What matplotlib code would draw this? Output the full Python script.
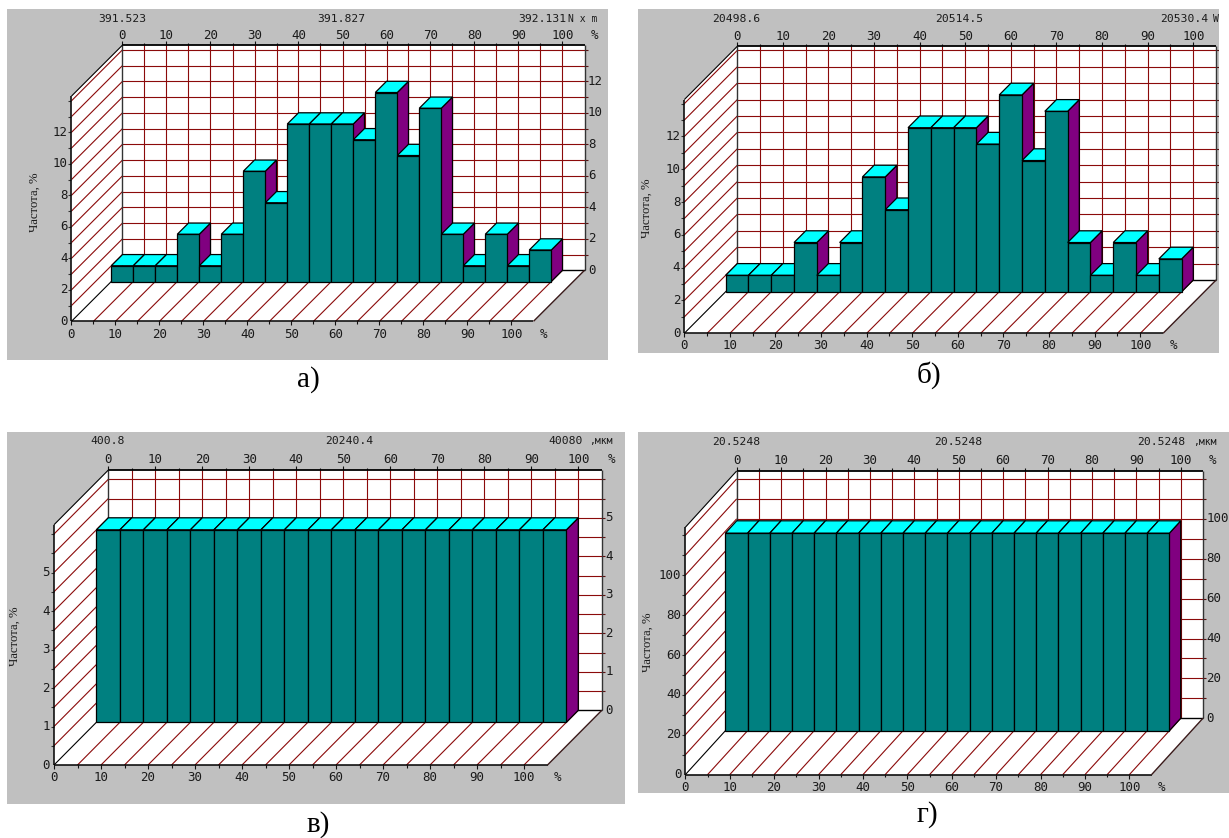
import numpy as np
import matplotlib
matplotlib.use('Agg')
import matplotlib.pyplot as plt
from matplotlib.patches import Polygon

W, H = 1229, 838

# heights of the bars, %
freq_a = [1, 1, 1, 3, 1, 3, 7, 5, 10, 10, 10, 9, 12, 8, 11, 3, 1, 3, 1, 2]
freq_b = [1, 1, 1, 3, 1, 3, 7, 5, 10, 10, 10, 9, 12, 8, 11, 3, 1, 3, 1, 2]
freq_c = [5, 5, 5, 5, 5, 5, 5, 5, 5, 5, 5, 5, 5, 5, 5, 5, 5, 5, 5, 5]
freq_d = [99, 99, 99, 99, 99, 99, 99, 99, 99, 99, 99, 99, 99, 99, 99, 99, 99, 99, 99, 99]

bin_left = [0, 5, 10, 15, 20, 25, 30, 35, 40, 45, 50, 55, 60, 65, 70, 75, 80, 85, 90, 95]
x_ticks = [0, 10, 20, 30, 40, 50, 60, 70, 80, 90, 100]
y_ticks_a = [0, 2, 4, 6, 8, 10, 12]
y_ticks_c = [0, 1, 2, 3, 4, 5]
y_ticks_d = [0, 20, 40, 60, 80, 100]

heads_a = ['391.523', '391.827', '392.131']
heads_b = ['20498.6', '20514.5', '20530.4']
heads_c = ['400.8', '20240.4', '40080']
heads_d = ['20.5248', '20.5248', '20.5248']

RED = '#8b0a0a'
MONO = 'DejaVu Sans Mono'
SERIF = 'Liberation Serif'
TXT = '#1a1a1a'

panels = [
    dict(freq=freq_a, yt=y_ticks_a, heads=heads_a, unit='N x m', cap='а)',
         box=(7, 9, 608, 360), org=(71.5, 321.3), sx=4.4, sy=15.75, dx=51, dy=51,
         ymax=14.3, step=1, right=True, top_pct=True, top_y=35, bot_y=334,
         head_y=19, head_x=(122, 341, 566), unit_x=597, yl=(35, 202), cap_xy=(308, 380)),
    dict(freq=freq_b, yt=y_ticks_a, heads=heads_b, unit='W', cap='б)',
         box=(638, 9, 1219, 353.3), org=(684.3, 333.3), sx=4.56, sy=16.4, dx=53, dy=53.3,
         ymax=14.25, step=1, right=False, top_pct=False, top_y=36, bot_y=345.7,
         head_y=19, head_x=(736, 959, 1208), unit_x=1219, yl=(647, 208), cap_xy=(929, 375)),
    dict(freq=freq_c, yt=y_ticks_c, heads=heads_c, unit=',мкм', cap='в)',
         box=(7, 432.3, 625, 804), org=(54, 765), sx=4.7, sy=38.5, dx=54.3, dy=54.7,
         ymax=6.24, step=0.5, right=True, top_pct=True, top_y=459, bot_y=777.7,
         head_y=441, head_x=(108, 349, 583), unit_x=613, yl=(15, 636), cap_xy=(318, 825)),
    dict(freq=freq_d, yt=y_ticks_d, heads=heads_d, unit=',мкм', cap='г)',
         box=(638, 432.3, 1229, 792.7), org=(685.3, 774.7), sx=4.44, sy=1.995, dx=51.4, dy=56.4,
         ymax=124, step=10, right=True, top_pct=True, top_y=460, bot_y=787.3,
         head_y=441.7, head_x=(736, 958, 1185), unit_x=1217, yl=(648, 642), cap_xy=(927, 815)),
]

fig = plt.figure(figsize=(W / 100, H / 100), dpi=100, facecolor='white')


def draw_panel(p):
    L, T, R, B = p['box']
    ox, oy = p['org']
    sx, sy = p['sx'], p['sy']
    ax = fig.add_axes([L / W, 1 - B / H, (R - L) / W, (B - T) / H])
    ax.set_xlim((L - ox) / sx, (R - ox) / sx)
    ax.set_ylim((oy - B) / sy, (oy - T) / sy)
    ax.set_facecolor('#c0c0c0')
    ax.set_xticks([])
    ax.set_yticks([])
    for s in ax.spines.values():
        s.set_visible(False)

    ymax = p['ymax']
    xend = 105
    # pixels to data units
    px = lambda n: n / sx
    py = lambda n: n / sy
    # depth 0 is the front plane, depth 1 the back wall
    def pr(x, v, d):
        return (x + d * p['dx'] / sx, v + d * p['dy'] / sy)

    def poly(pts, fc, ec='none', lw=0, z=1):
        ax.add_patch(Polygon(pts, closed=True, fc=fc, ec=ec, lw=lw, zorder=z))

    def line(a, b, c=RED, lw=0.8, z=2):
        ax.plot([a[0], b[0]], [a[1], b[1]], color=c, lw=lw, zorder=z, solid_capstyle='butt')

    # walls and floor
    poly([pr(0, 0, 1), pr(xend, 0, 1), pr(xend, ymax, 1), pr(0, ymax, 1)], 'white')
    poly([pr(0, 0, 0), pr(0, 0, 1), pr(0, ymax, 1), pr(0, ymax, 0)], 'white')
    poly([pr(0, 0, 0), pr(xend, 0, 0), pr(xend, 0, 1), pr(0, 0, 1)], 'white')

    levels = np.arange(p['step'], ymax, p['step'])
    for v in levels:
        line(pr(0, v, 0), pr(0, v, 1))
        line(pr(0, v, 1), pr(xend, v, 1))
        # short marks on both sides
        a = pr(0, v, 0)
        line((a[0] - px(3), a[1]), a, c='#333333', lw=0.8)
        b = pr(xend, v, 1)
        line(b, (b[0] + px(3), b[1]), c='#5a1010', lw=0.8)
    for x in np.arange(5, 105, 5):
        line(pr(x, 0, 0), pr(x, 0, 1))
        line(pr(x, 0, 1), pr(x, ymax, 1))
        long_tick = x % 10 == 0
        a = pr(x, 0, 0)
        line(a, (a[0], a[1] - py(4 if long_tick else 2.5)), c='#111111', lw=0.8)
        b = pr(x, ymax, 1)
        line(b, (b[0], b[1] + py(4 if long_tick else 2.5)), c='#111111', lw=0.8)

    # frame
    k = 'black'
    line(pr(0, ymax, 1), pr(xend, ymax, 1), c=k, lw=1.3, z=3)
    line(pr(0, 0, 1), pr(0, ymax, 1), c='#333333', lw=1, z=3)
    line(pr(xend, 0, 1), pr(xend, ymax, 1), c='#333333', lw=1, z=3)
    line(pr(0, 0, 1), pr(xend, 0, 1), c=k, lw=1, z=3)
    line(pr(0, 0, 0), pr(xend, 0, 0), c=k, lw=1.1, z=3)
    line(pr(0, 0, 0), pr(0, ymax, 0), c=k, lw=1.1, z=3)
    line(pr(0, 0, 0), pr(0, 0, 1), c=k, lw=0.8, z=3)
    line(pr(0, ymax, 0), pr(0, ymax, 1), c=k, lw=0.8, z=3)
    line(pr(xend, 0, 0), pr(xend, 0, 1), c='#3a1a1a', lw=1, z=3)
    a = pr(0, ymax, 1)
    line(a, (a[0], a[1] + py(4)), c='#111111', lw=0.8)
    a = pr(0, 0, 0)
    line(a, (a[0], a[1] - py(4)), c='#111111', lw=0.8)

    # bars, left to right so the next bar covers the side of the previous one
    d0 = 0.78
    bw = 5
    for x, h in zip(bin_left, p['freq']):
        e = dict(ec='black', lw=0.9, z=5)
        poly([pr(x + bw, 0, d0), pr(x + bw, 0, 1), pr(x + bw, h, 1), pr(x + bw, h, d0)], '#800080', **e)
        poly([pr(x, h, d0), pr(x + bw, h, d0), pr(x + bw, h, 1), pr(x, h, 1)], '#00ffff', **e)
        poly([pr(x, 0, d0), pr(x + bw, 0, d0), pr(x + bw, h, d0), pr(x, h, d0)], '#008080', **e)

    tk = dict(family=MONO, fontsize=9, color=TXT, clip_on=True, zorder=8)
    to_y = lambda pix: (oy - pix) / sy
    to_x = lambda pix: (pix - ox) / sx

    for x in x_ticks:
        ax.text(x, to_y(p['bot_y']), str(x), ha='center', va='center', **tk)
        ax.text(pr(x, 0, 1)[0], to_y(p['top_y']), str(x), ha='center', va='center', **tk)
    ax.text(xend + px(10), to_y(p['bot_y']), '%', ha='center', va='center', **tk)
    if p['top_pct']:
        ax.text(pr(xend, 0, 1)[0] + px(10), to_y(p['top_y']), '%', ha='center', va='center', **tk)

    for v in p['yt']:
        ax.text(-px(4), v, str(v), ha='right', va='center', **tk)
        if p['right']:
            b = pr(xend, v, 1)
            ax.text(b[0] + px(3.5), b[1], str(v), ha='left', va='center', **tk)

    # header above the back wall
    hd = dict(family=MONO, fontsize=8.2, color=TXT, clip_on=True, zorder=8, va='center')
    ax.text(to_x(p['head_x'][0]), to_y(p['head_y']), p['heads'][0], ha='center', **hd)
    ax.text(to_x(p['head_x'][1]), to_y(p['head_y']), p['heads'][1], ha='center', **hd)
    ax.text(to_x(p['head_x'][2]), to_y(p['head_y']), p['heads'][2], ha='right', **hd)
    hd['fontsize'] = 7
    ax.text(to_x(p['unit_x']), to_y(p['head_y']), p['unit'], ha='right', **hd)

    ax.text(to_x(p['yl'][0]), to_y(p['yl'][1]), 'Частота, %', rotation=90, ha='center', va='center',
            family=SERIF, fontsize=9.2, color=TXT, zorder=8)

    fig.text(p['cap_xy'][0] / W, 1 - p['cap_xy'][1] / H, p['cap'], ha='center', va='center',
             family=SERIF, fontsize=21, color='black')


for p in panels:
    draw_panel(p)

fig.savefig('out.png', dpi=100)
